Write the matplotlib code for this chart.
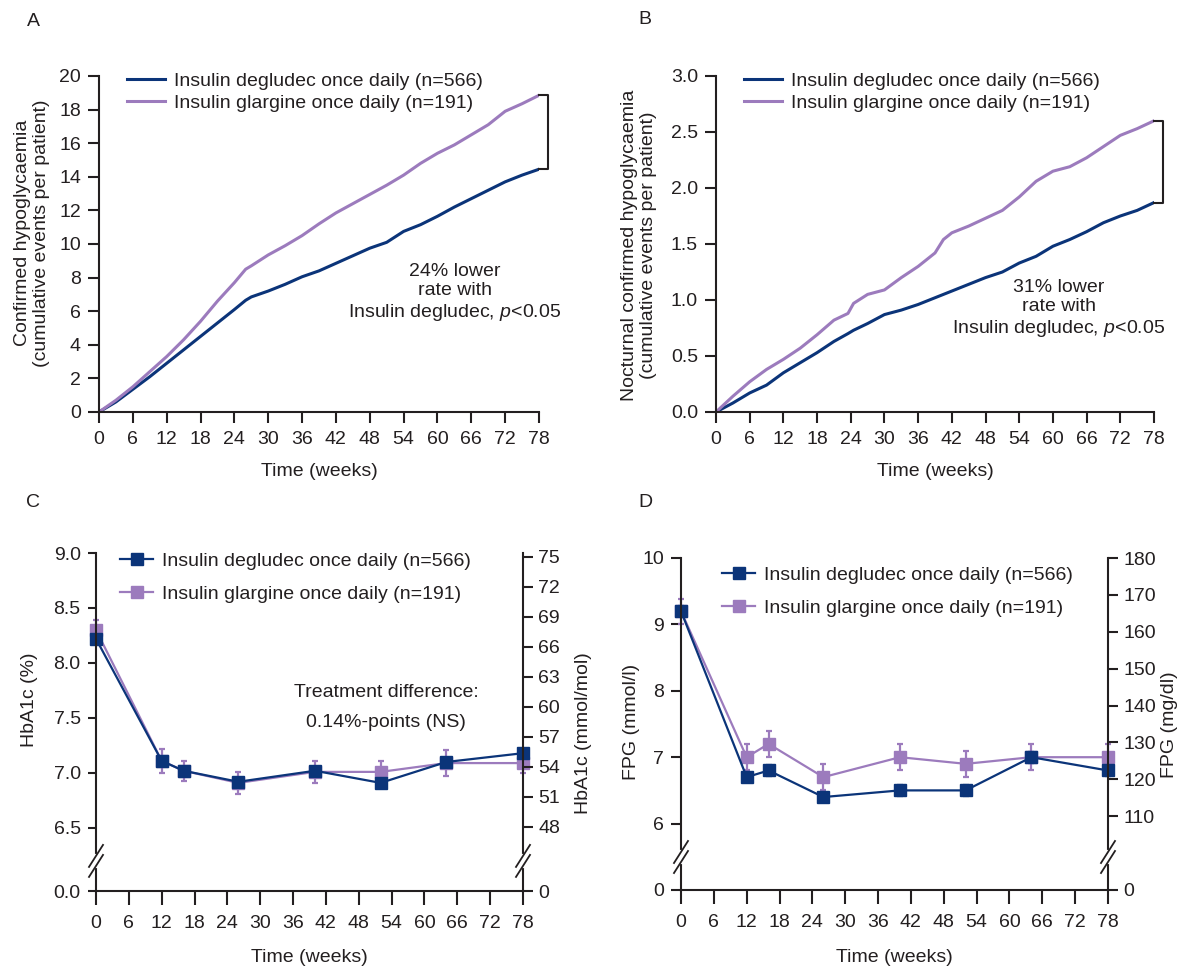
import numpy as np
import matplotlib
matplotlib.use('Agg')
import matplotlib.pyplot as plt
from matplotlib.lines import Line2D
from matplotlib.ticker import FormatStrFormatter

plt.rcParams['font.family'] = ['Liberation Sans', 'DejaVu Sans']
plt.rcParams['mathtext.fontset'] = 'custom'
plt.rcParams['mathtext.rm'] = 'Liberation Sans'
plt.rcParams['mathtext.it'] = 'Liberation Sans:italic'

W, H = 1178, 969
INK = '#231f20'
NAVY = '#0b3479'
LILAC = '#9c7bbd'
FS = 14

lab_deg = 'Insulin degludec once daily (n=566)'
lab_gla = 'Insulin glargine once daily (n=191)'
week_ticks = list(range(0, 79, 6))

# A: confirmed hypoglycaemia, cumulative events per patient
a_weeks = [0, 3, 6, 9, 12, 15, 18, 21, 24, 26, 27, 30, 33, 36, 39, 42, 45,
           48, 51, 54, 57, 60, 63, 66, 69, 72, 75, 78]
a_gla = [0, 0.7, 1.5, 2.4, 3.3, 4.3, 5.4, 6.6, 7.7, 8.5, 8.7, 9.35, 9.9,
         10.5, 11.2, 11.85, 12.4, 12.95, 13.5, 14.1, 14.8, 15.4, 15.9, 16.5,
         17.1, 17.9, 18.35, 18.85]
a_deg = [0, 0.6, 1.35, 2.1, 2.9, 3.7, 4.5, 5.3, 6.1, 6.65, 6.85, 7.2, 7.6,
         8.05, 8.4, 8.85, 9.3, 9.75, 10.1, 10.75, 11.15, 11.65, 12.2, 12.7,
         13.2, 13.7, 14.1, 14.45]

# B: nocturnal confirmed hypoglycaemia
b_weeks = [0, 3, 6, 9, 12, 15, 18, 21, 23.5, 24.5, 27, 30, 33, 36, 39, 40.5,
           42, 45, 48, 51, 54, 57, 60, 63, 66, 69, 72, 75, 78]
b_gla = [0, 0.14, 0.27, 0.38, 0.47, 0.57, 0.69, 0.82, 0.88, 0.97, 1.05, 1.09,
         1.2, 1.3, 1.42, 1.54, 1.6, 1.66, 1.73, 1.8, 1.92, 2.06, 2.15, 2.19,
         2.27, 2.37, 2.47, 2.53, 2.6]
b_deg = [0, 0.08, 0.17, 0.24, 0.35, 0.44, 0.53, 0.63, 0.7, 0.73, 0.79, 0.87,
         0.91, 0.96, 1.02, 1.05, 1.08, 1.14, 1.2, 1.25, 1.33, 1.39, 1.48, 1.54,
         1.61, 1.69, 1.75, 1.8, 1.87]

# C: HbA1c (%)
visit_weeks = [0, 12, 16, 26, 40, 52, 64, 78]
c_deg = [8.22, 7.11, 7.02, 6.92, 7.02, 6.91, 7.10, 7.18]
c_deg_err = [0.03, 0.03, 0.03, 0.03, 0.03, 0.03, 0.03, 0.03]
c_gla = [8.30, 7.11, 7.02, 6.91, 7.01, 7.01, 7.09, 7.09]
c_gla_err = [0.09, 0.11, 0.09, 0.10, 0.10, 0.10, 0.12, 0.09]

# D: FPG (mmol/l)
d_deg = [9.2, 6.7, 6.8, 6.4, 6.5, 6.5, 7.0, 6.8]
d_deg_err = [0.08, 0.08, 0.08, 0.08, 0.08, 0.08, 0.08, 0.08]
d_gla = [9.2, 7.0, 7.2, 6.7, 7.0, 6.9, 7.0, 7.0]
d_gla_err = [0.19, 0.2, 0.2, 0.2, 0.2, 0.2, 0.2, 0.2]


def add_axes_px(fig, l, t, r, b):
    return fig.add_axes([l / W, 1 - b / H, (r - l) / W, (b - t) / H])


def style(ax, xlen, ylen, xpad, ypad):
    for s in ['top', 'right']:
        ax.spines[s].set_visible(False)
    for s in ['left', 'bottom']:
        ax.spines[s].set_linewidth(1.5)
        ax.spines[s].set_color(INK)
    ax.tick_params(axis='x', direction='out', length=xlen, width=1.5,
                   color=INK, labelsize=FS, labelcolor=INK, pad=xpad)
    ax.tick_params(axis='y', direction='out', length=ylen, width=1.5,
                   color=INK, labelsize=FS, labelcolor=INK, pad=ypad)
    ax.set_xlim(0, 78)
    ax.set_xticks(week_ticks)


def legend_px(ax, fig, x, y, hl, sp, handles=None, labels=None):
    args = [] if handles is None else [handles, labels]
    ax.legend(*args, loc='upper left', bbox_to_anchor=(x / W, 1 - y / H),
              bbox_transform=fig.transFigure, frameon=False, fontsize=FS,
              borderpad=0, borderaxespad=0, handlelength=hl,
              handletextpad=0.45, labelspacing=sp, labelcolor=INK)


def bracket(ax, top, bottom, xr=79.6):
    ax.plot([78, xr, xr, 78], [top, top, bottom, bottom], color=INK, lw=1.5,
            clip_on=False)


def axis_break(ax, xf, yf):
    bb = ax.get_position()
    wpx, hpx = bb.width * W, bb.height * H
    dx, dy, gap = 7 / wpx, 11 / hpx, 5 / hpx
    ax.plot([xf, xf], [yf - gap, yf + gap], color='white', lw=3,
            transform=ax.transAxes, clip_on=False, zorder=5)
    for off in (-gap, gap):
        ax.plot([xf - dx, xf + dx], [yf + off - dy, yf + off + dy], color=INK,
                lw=1.3, transform=ax.transAxes, clip_on=False, zorder=6)


def ftext(x, y, s, **kw):
    fig.text(x / W, 1 - y / H, s, ha='center', va='center', color=INK,
             fontsize=FS, **kw)


fig = plt.figure(figsize=(W / 100, H / 100), dpi=100)

# ---------------- A ----------------
axA = add_axes_px(fig, 99, 76, 539, 412)
style(axA, 8, 8, 6, 5)
axA.plot(a_weeks, a_deg, color=NAVY, lw=2.2, label=lab_deg)
axA.plot(a_weeks, a_gla, color=LILAC, lw=2.2, label=lab_gla)
axA.set_ylim(0, 20)
axA.set_yticks(range(0, 21, 2))
bracket(axA, a_gla[-1], a_deg[-1])
legend_px(axA, fig, 127, 72, 1.95, 0.25)
axA.text(0.809, 0.354, '24% lower\nrate with\nInsulin degludec, $p$<0.05',
         transform=axA.transAxes, ha='center', va='center', fontsize=FS,
         color=INK, linespacing=1.15)

# ---------------- B ----------------
axB = add_axes_px(fig, 716, 76, 1154, 412)
style(axB, 8, 8, 6, 5)
axB.plot(b_weeks, b_deg, color=NAVY, lw=2.2, label=lab_deg)
axB.plot(b_weeks, b_gla, color=LILAC, lw=2.2, label=lab_gla)
axB.set_ylim(0, 3.0)
axB.set_yticks(np.arange(0, 3.01, 0.5))
axB.yaxis.set_major_formatter(FormatStrFormatter('%.1f'))
bracket(axB, b_gla[-1], b_deg[-1])
legend_px(axB, fig, 744, 72, 1.95, 0.25)
axB.text(0.783, 0.3065, '31% lower\nrate with\nInsulin degludec, $p$<0.05',
         transform=axB.transAxes, ha='center', va='center', fontsize=FS,
         color=INK, linespacing=1.15)


def plot_visits(ax, deg, deg_err, gla, gla_err):
    for vals, err, col in [(gla, gla_err, LILAC), (deg, deg_err, NAVY)]:
        cont = ax.errorbar(visit_weeks, vals, yerr=err, fmt='-s', color=col,
                           ms=9, lw=1.6, elinewidth=1.6, capsize=2.5,
                           capthick=1.6)
        line, caps, bars = cont.lines
        line.set_clip_on(False)
        for c in caps:
            c.set_clip_on(False)
        for b in bars:
            b.set_clip_on(False)


visit_handles = [Line2D([], [], color=NAVY, marker='s', ms=9, lw=1.6),
                 Line2D([], [], color=LILAC, marker='s', ms=9, lw=1.6)]
visit_labels = [lab_deg, lab_gla]

# ---------------- C ----------------
C_LO = 6.5 - 0.573


def c_fwd(y):
    y = np.asarray(y, float)
    return np.where(y >= 6.5, y, C_LO + y * 0.573 / 6.5)


def c_inv(d):
    d = np.asarray(d, float)
    return np.where(d >= 6.5, d, (d - C_LO) * 6.5 / 0.573)


def mmol_to_pct(m):
    m = np.asarray(m, float)
    return np.where(m >= 47.89, 6.51 + (m - 48) / 11, m * 6.5 / 47.89)


def pct_to_mmol(p):
    p = np.asarray(p, float)
    return np.where(p >= 6.5, 48 + (p - 6.51) * 11, p * 47.89 / 6.5)


axC = add_axes_px(fig, 96, 553, 523, 891)
style(axC, 10, 6, 7, 5)
axC.set_yscale('function', functions=(c_fwd, c_inv))
axC.set_ylim(0, 9.0)
axC.set_yticks([0, 6.5, 7.0, 7.5, 8.0, 8.5, 9.0])
axC.yaxis.set_major_formatter(FormatStrFormatter('%.1f'))
plot_visits(axC, c_deg, c_deg_err, c_gla, c_gla_err)
legend_px(axC, fig, 120, 552, 1.7, 0.8, visit_handles, visit_labels)
axC.text(0.679, 0.543, 'Treatment difference:\n0.14%-points (NS)',
         transform=axC.transAxes, ha='center', va='center', fontsize=FS,
         color=INK, linespacing=2.0)

axC2 = axC.twinx()
for s in ['top', 'left', 'bottom']:
    axC2.spines[s].set_visible(False)
axC2.spines['right'].set_linewidth(1.5)
axC2.spines['right'].set_color(INK)
axC2.set_yscale('function',
                functions=(lambda m: c_fwd(mmol_to_pct(m)),
                           lambda d: pct_to_mmol(c_inv(d))))
axC2.set_ylim(0, float(pct_to_mmol(9.0)))
axC2.set_yticks([0] + list(range(48, 76, 3)))
axC2.tick_params(axis='y', direction='out', length=7, width=1.5, color=INK,
                 labelsize=FS, labelcolor=INK, pad=4)
axis_break(axC, 0, 0.089)
axis_break(axC2, 1, 0.089)

# ---------------- D ----------------


def d_fwd(y):
    y = np.asarray(y, float)
    return np.where(y >= 6, y, 5 + y / 6)


def d_inv(d):
    d = np.asarray(d, float)
    return np.where(d >= 6, d, (d - 5) * 6)


axD = add_axes_px(fig, 681, 558, 1108, 890)
style(axD, 10, 7, 7, 5)
axD.set_yscale('function', functions=(d_fwd, d_inv))
axD.set_ylim(0, 10)
axD.set_yticks([0, 6, 7, 8, 9, 10])
axD.yaxis.set_major_formatter(FormatStrFormatter('%d'))
plot_visits(axD, d_deg, d_deg_err, d_gla, d_gla_err)
legend_px(axD, fig, 722, 566, 1.7, 0.8, visit_handles, visit_labels)

axD2 = axD.twinx()
for s in ['top', 'left', 'bottom']:
    axD2.spines[s].set_visible(False)
axD2.spines['right'].set_linewidth(1.5)
axD2.spines['right'].set_color(INK)
axD2.set_yscale('function',
                functions=(lambda mg: d_fwd(np.asarray(mg, float) / 18),
                           lambda d: d_inv(d) * 18))
axD2.set_ylim(0, 180)
axD2.set_yticks([0] + list(range(110, 181, 10)))
axD2.tick_params(axis='y', direction='out', length=7, width=1.5, color=INK,
                 labelsize=FS, labelcolor=INK, pad=4)
axis_break(axD, 0, 0.0994)
axis_break(axD2, 1, 0.0994)

# ---------------- labels ----------------
ftext(33, 21, 'A')
ftext(645, 20, 'B')
ftext(33, 503, 'C')
ftext(645, 503, 'D')

ftext(32, 233, 'Confirmed hypoglycaemia\n(cumulative events per patient)',
      rotation=90, multialignment='center', linespacing=1.1)
ftext(639, 245, 'Nocturnal confirmed hypoglycaemia\n(cumulative events per patient)',
      rotation=90, multialignment='center', linespacing=1.1)
ftext(29, 700, 'HbA1c (%)', rotation=90)
ftext(583, 733, 'HbA1c (mmol/mol)', rotation=90)
ftext(632, 722, 'FPG (mmol/l)', rotation=90)
ftext(1170, 725, 'FPG (mg/dl)', rotation=90)

ftext(319, 472, 'Time (weeks)')
ftext(935, 472, 'Time (weeks)')
ftext(309, 958, 'Time (weeks)')
ftext(894, 958, 'Time (weeks)')

fig.savefig('out.png', dpi=100)
